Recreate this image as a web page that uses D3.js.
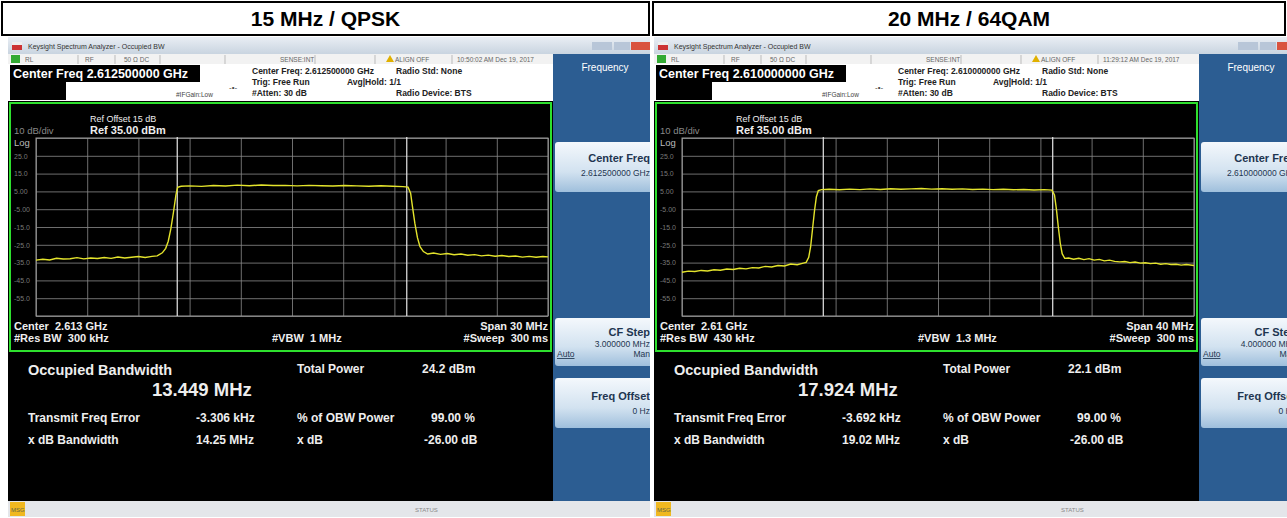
<!DOCTYPE html>
<html>
<head>
<meta charset="utf-8">
<script src="https://cdn.jsdelivr.net/npm/d3@7"></script>
<style>
body { margin: 0; background: #fff; }
svg { display: block; font-family: "Liberation Sans", Arial, sans-serif; }
</style>
</head>
<body>
<svg width="1287" height="518"></svg>
<script>
// titoli dei due pannelli
const titles = ["15 MHz / QPSK", "20 MHz / 64QAM"];

// asse verticale (dBm) e etichette
const yTicks = [25, 15, 5, -5, -15, -25, -35, -45, -55];
const yTickLabels = ["25.0", "15.0", "5.00", "-5.00", "-15.0", "-25.0", "-35.0", "-45.0", "-55.0"];

// traccia 1: offset in MHz dal centro, livello in dBm
const tr1Freq = [-15,-14.6,-14.2,-13.8,-13.4,-13,-12.6,-12.2,-11.8,-11.4,-11,-10.6,-10.2,-9.8,-9.4,-9,-8.6,-8.2,-7.9,
  -7.6,-7.4,-7.25,-7.1,-6.95,-6.8,-6.7,-6.5,
  -6,-5.3,-4.6,-3.9,-3.2,-2.5,-1.8,-1.1,-0.4,0.3,1,1.7,2.4,3.1,3.8,4.5,5.2,5.9,6.5,6.8,
  6.95,7.05,7.2,7.35,7.5,7.7,7.95,
  8.3,8.7,9.1,9.5,9.9,10.3,10.7,11.1,11.5,11.9,12.3,12.7,13.1,13.5,13.9,14.3,14.7,15];
const tr1Level = [-33.6,-33.1,-33.5,-32.6,-33.0,-32.8,-32.2,-32.9,-32.4,-32.7,-32.1,-32.6,-31.9,-32.4,-32.0,-31.6,-32.1,-31.5,-31.2,
  -29.5,-27,-23,-16,-7,3,7.3,7.9,
  8.1,7.8,8.3,8.0,8.5,8.2,8.6,8.3,8.4,8.1,8.4,8.2,8.0,8.3,8.1,7.9,8.2,7.9,7.7,7.4,
  4,-3,-13,-21,-26,-28.8,-30.2,
  -29.6,-30.4,-29.9,-30.6,-30.2,-30.9,-30.5,-31.2,-30.8,-31.4,-31.0,-31.6,-31.3,-31.9,-31.5,-32.0,-31.6,-31.8];

// traccia 2
const tr2Freq = [-20,-19.5,-19,-18.5,-18,-17.5,-17,-16.5,-16,-15.5,-15,-14.5,-14,-13.5,-13,-12.5,-12,-11.5,-11,-10.6,-10.3,
  -10.1,-9.95,-9.8,-9.65,-9.5,-9.35,-9.1,
  -8.5,-7.7,-6.9,-6.1,-5.3,-4.5,-3.7,-2.9,-2.1,-1.3,-0.5,0.3,1.1,1.9,2.7,3.5,4.3,5.1,5.9,6.7,7.5,8.3,8.9,
  9.1,9.25,9.4,9.55,9.7,9.9,
  10.2,10.6,11,11.4,11.8,12.2,12.6,13,13.4,13.8,14.2,14.6,15,15.4,15.8,16.2,16.6,17,17.4,17.8,18.2,18.6,19,19.4,20];
const tr2Level = [-40.4,-39.8,-40.0,-39.4,-39.7,-39.0,-39.3,-38.6,-38.9,-38.2,-38.5,-37.8,-38.0,-37.1,-37.5,-36.6,-36.9,-35.8,-36.2,-35.4,-34.9,
  -32,-26,-16,-6,2,5.5,6.0,
  6.2,5.9,6.3,6.0,6.4,6.1,6.5,6.2,6.4,6.6,6.3,6.5,6.2,6.4,6.1,6.3,6.0,6.2,5.9,6.1,5.8,6.0,5.7,
  3,-5,-15,-24,-30,-32.6,
  -32.4,-33.1,-32.6,-33.3,-32.8,-33.6,-33.2,-34.0,-33.6,-34.3,-34.6,-34.4,-35.0,-34.7,-35.3,-35.1,-35.6,-35.3,-35.9,-35.6,-36.1,-35.9,-36.4,-36.1,-36.6];

const spans = [30, 40];
const obw = [13.449, 17.924];

const panels = [
  {ox: 0, clipX: 0, clipW: 650, title: titles[0], freq: tr1Freq, level: tr1Level, span: spans[0], obw: obw[0],
   cf: "2.612500000 GHz", time: "10:50:02 AM Dec 19, 2017", center: "Center  2.613 GHz", rbw: "#Res BW  300 kHz",
   vbw: "#VBW  1 MHz", spanTxt: "Span 30 MHz", step: "3.000000 MHz", obwTxt: "13.449 MHz", tfe: "-3.306 kHz",
   xdb: "14.25 MHz", tp: "24.2 dBm"},
  {ox: 646, clipX: 652, clipW: 635, title: titles[1], freq: tr2Freq, level: tr2Level, span: spans[1], obw: obw[1],
   cf: "2.610000000 GHz", time: "11:29:12 AM Dec 19, 2017", center: "Center  2.61 GHz", rbw: "#Res BW  430 kHz",
   vbw: "#VBW  1.3 MHz", spanTxt: "Span 40 MHz", step: "4.000000 MHz", obwTxt: "17.924 MHz", tfe: "-3.692 kHz",
   xdb: "19.02 MHz", tp: "22.1 dBm"}
];

const svg = d3.select("svg");
const defs = svg.append("defs");

const btnGrad = defs.append("linearGradient").attr("id", "btn").attr("x1", 0).attr("y1", 0).attr("x2", 0).attr("y2", 1);
btnGrad.append("stop").attr("offset", "0%").attr("stop-color", "#f4f8fc");
btnGrad.append("stop").attr("offset", "60%").attr("stop-color", "#d2e2f0");
btnGrad.append("stop").attr("offset", "100%").attr("stop-color", "#9fbfdc");
const winGrad = defs.append("linearGradient").attr("id", "win").attr("x1", 0).attr("y1", 0).attr("x2", 0).attr("y2", 1);
winGrad.append("stop").attr("offset", "0%").attr("stop-color", "#e9eef4");
winGrad.append("stop").attr("offset", "100%").attr("stop-color", "#c9d4e0");

// intestazioni
panels.forEach(function(p, i) {
  const x0 = i === 0 ? 2 : 653, w = i === 0 ? 647 : 632;
  svg.append("rect").attr("x", x0).attr("y", 2).attr("width", w).attr("height", 33)
    .attr("fill", "#fff").attr("stroke", "#000").attr("stroke-width", 2);
  svg.append("text").attr("x", x0 + w / 2).attr("y", 26).attr("text-anchor", "middle")
    .attr("font-size", 21).attr("font-weight", "bold").text(p.title);
});

panels.forEach(function(p, i) {
  defs.append("clipPath").attr("id", "clip" + i).append("rect")
    .attr("x", p.clipX).attr("y", 36).attr("width", p.clipW).attr("height", 482);
  const outer = svg.append("g").attr("clip-path", "url(#clip" + i + ")");
  const g = outer.append("g").attr("transform", `translate(${p.ox},0)`);

  // finestra
  g.append("rect").attr("x", 8).attr("y", 37).attr("width", 660).attr("height", 17).attr("fill", "url(#win)");
  g.append("rect").attr("x", 12).attr("y", 42).attr("width", 10).attr("height", 8).attr("fill", "#c33");
  g.append("rect").attr("x", 12).attr("y", 42).attr("width", 10).attr("height", 3).attr("fill", "#eee");
  g.append("text").attr("x", 28).attr("y", 49).attr("font-size", 7).attr("fill", "#333")
    .text("Keysight Spectrum Analyzer - Occupied BW");
  g.append("rect").attr("x", 592).attr("y", 42).attr("width", 20).attr("height", 8).attr("fill", "#b8c6d8");
  g.append("rect").attr("x", 614).attr("y", 42).attr("width", 16).attr("height", 8).attr("fill", "#b8c6d8");
  g.append("rect").attr("x", 631).attr("y", 42).attr("width", 22).attr("height", 8).attr("fill", "#d9533f");

  // barra di stato
  g.append("rect").attr("x", 8).attr("y", 54).attr("width", 545).attr("height", 10).attr("fill", "#f2f2f2");
  g.append("rect").attr("x", 11).attr("y", 55).attr("width", 9).attr("height", 8).attr("fill", "#3a3");
  [["RL", 25], ["RF", 85], ["50 Ω  DC", 124], ["SENSE:INT", 280], ["ALIGN OFF", 395], [p.time, 457]].forEach(function(t) {
    g.append("text").attr("x", t[1]).attr("y", 62).attr("font-size", 6.5).attr("fill", "#666").text(t[0]);
  });
  [78, 115, 160, 225, 315, 375, 452].forEach(function(x) {
    g.append("line").attr("x1", x).attr("x2", x).attr("y1", 55).attr("y2", 64).attr("stroke", "#bbb");
  });
  g.append("path").attr("d", "M386,62 L390,55 L394,62 Z").attr("fill", "#e0b000");

  // area info
  g.append("rect").attr("x", 8).attr("y", 64).attr("width", 545).attr("height", 37).attr("fill", "#fff");
  g.append("rect").attr("x", 10).attr("y", 65).attr("width", 190).attr("height", 17).attr("fill", "#000");
  g.append("rect").attr("x", 10).attr("y", 82).attr("width", 56).attr("height", 18).attr("fill", "#000");
  g.append("text").attr("x", 13).attr("y", 78).attr("font-size", 12.5).attr("font-weight", "bold").attr("fill", "#fff")
    .text("Center Freq " + p.cf);
  const info = [["Center Freq: " + p.cf, 252, 74], ["Trig: Free Run", 252, 85], ["Avg|Hold: 1/1", 347, 85],
    ["#Atten: 30 dB", 252, 96], ["Radio Std: None", 396, 74], ["Radio Device: BTS", 396, 96]];
  info.forEach(function(t) {
    g.append("text").attr("x", t[1]).attr("y", t[2]).attr("font-size", 8.5).attr("font-weight", "bold")
      .attr("fill", "#222").text(t[0]);
  });
  g.append("text").attr("x", 176).attr("y", 97).attr("font-size", 6.5).attr("fill", "#444").text("#IFGain:Low");
  g.append("text").attr("x", 229).attr("y", 90).attr("font-size", 8).attr("fill", "#444").text("-•-");

  // tasti funzione
  g.append("rect").attr("x", 553).attr("y", 54).attr("width", 110).attr("height", 447).attr("fill", "#2c5d92");
  g.append("text").attr("x", 605).attr("y", 71).attr("text-anchor", "middle").attr("font-size", 10)
    .attr("fill", "#fff").text("Frequency");
  [[142, 50], [318, 48], [378, 50]].forEach(function(b) {
    g.append("rect").attr("x", 555).attr("y", b[0]).attr("width", 108).attr("height", b[1]).attr("rx", 3)
      .attr("fill", "url(#btn)");
  });
  const kr = 650;
  g.append("text").attr("x", kr).attr("y", 162).attr("text-anchor", "end").attr("font-size", 11)
    .attr("font-weight", "bold").attr("fill", "#1e3550").text("Center Freq");
  g.append("text").attr("x", kr).attr("y", 176).attr("text-anchor", "end").attr("font-size", 8.5)
    .attr("fill", "#1e3550").text(p.cf);
  g.append("text").attr("x", kr).attr("y", 336).attr("text-anchor", "end").attr("font-size", 11)
    .attr("font-weight", "bold").attr("fill", "#1e3550").text("CF Step");
  g.append("text").attr("x", kr).attr("y", 347).attr("text-anchor", "end").attr("font-size", 8.5)
    .attr("fill", "#1e3550").text(p.step);
  g.append("text").attr("x", 557).attr("y", 357).attr("font-size", 8.5).attr("fill", "#1e3550")
    .attr("text-decoration", "underline").text("Auto");
  g.append("text").attr("x", kr).attr("y", 357).attr("text-anchor", "end").attr("font-size", 8.5)
    .attr("fill", "#1e3550").text("Man");
  g.append("text").attr("x", kr).attr("y", 400).attr("text-anchor", "end").attr("font-size", 11)
    .attr("font-weight", "bold").attr("fill", "#1e3550").text("Freq Offset");
  g.append("text").attr("x", kr).attr("y", 414).attr("text-anchor", "end").attr("font-size", 8.5)
    .attr("fill", "#1e3550").text("0 Hz");

  // area grafico
  g.append("rect").attr("x", 8).attr("y", 101).attr("width", 545).attr("height", 400).attr("fill", "#000");
  g.append("rect").attr("x", 10).attr("y", 103).attr("width", 541).attr("height", 248)
    .attr("fill", "none").attr("stroke", "#2ee02e").attr("stroke-width", 2);

  const x = d3.scaleLinear().domain([-p.span / 2, p.span / 2]).range([36, 548]);
  const y = d3.scaleLinear().domain([-65, 35]).range([316, 138]);

  // griglia
  const xGrid = d3.axisBottom(x).tickValues(d3.range(0, 11).map(function(k) { return -p.span / 2 + k * p.span / 10; }))
    .tickSize(-(316 - 138)).tickFormat("");
  g.append("g").attr("transform", "translate(0,316)").call(xGrid)
    .call(function(s) { s.select(".domain").remove(); })
    .selectAll("line").attr("stroke", "#8a8a8a").attr("stroke-width", 0.8);
  const yGrid = d3.axisLeft(y).tickValues(d3.range(-65, 36, 10)).tickSize(-(548 - 36)).tickFormat("");
  g.append("g").attr("transform", "translate(36,0)").call(yGrid)
    .call(function(s) { s.select(".domain").remove(); })
    .selectAll("line").attr("stroke", "#8a8a8a").attr("stroke-width", 0.8);
  g.append("rect").attr("x", 36).attr("y", 138).attr("width", 512).attr("height", 178)
    .attr("fill", "none").attr("stroke", "#9a9a9a");

  const yLab = d3.axisLeft(y).tickValues(yTicks).tickSize(0)
    .tickFormat(function(d, k) { return yTickLabels[k]; });
  g.append("g").attr("transform", "translate(34,0)").call(yLab)
    .call(function(s) { s.select(".domain").remove(); })
    .selectAll("text").attr("x", -20).attr("text-anchor", "start").attr("font-size", 7).attr("fill", "#777")
    .attr("font-family", "Liberation Sans");

  // marcatori OBW
  [-p.obw / 2, p.obw / 2].forEach(function(f) {
    g.append("line").attr("x1", x(f)).attr("x2", x(f)).attr("y1", 137).attr("y2", 316)
      .attr("stroke", "#e8e8e8").attr("stroke-width", 1.2);
  });

  // traccia
  const line = d3.line().x(function(d) { return x(d[0]); }).y(function(d) { return y(d[1]); });
  g.append("path").datum(d3.zip(p.freq, p.level)).attr("d", line)
    .attr("fill", "none").attr("stroke", "#e4e42c").attr("stroke-width", 1.4);

  // testi del grafico
  g.append("text").attr("x", 14).attr("y", 134).attr("font-size", 9.5).attr("fill", "#888").text("10 dB/div");
  g.append("text").attr("x", 14).attr("y", 146).attr("font-size", 9.5).attr("fill", "#bbb").text("Log");
  g.append("text").attr("x", 90).attr("y", 122).attr("font-size", 9).attr("fill", "#eee").text("Ref Offset 15 dB");
  g.append("text").attr("x", 90).attr("y", 134).attr("font-size", 11).attr("font-weight", "bold").attr("fill", "#eee")
    .text("Ref 35.00 dBm");
  const bt = [[p.center, 14, 330, "start"], [p.rbw, 14, 342, "start"], [p.vbw, 272, 342, "start"],
    [p.spanTxt, 548, 330, "end"], ["#Sweep  300 ms", 548, 342, "end"]];
  bt.forEach(function(t) {
    g.append("text").attr("x", t[1]).attr("y", t[2]).attr("text-anchor", t[3]).attr("font-size", 11)
      .attr("font-weight", "bold").attr("fill", "#eee").attr("xml:space", "preserve").text(t[0]);
  });

  // risultati
  const res = [["Occupied Bandwidth", 28, 375, 14.5], [p.obwTxt, 152, 396, 18.5], ["Total Power", 297, 373, 12],
    [p.tp, 422, 373, 12], ["Transmit Freq Error", 28, 422, 12], [p.tfe, 196, 422, 12], ["% of OBW Power", 297, 422, 12],
    ["99.00 %", 431, 422, 12], ["x dB Bandwidth", 28, 444, 12], [p.xdb, 196, 444, 12], ["x dB", 297, 444, 12],
    ["-26.00 dB", 424, 444, 12]];
  res.forEach(function(t) {
    g.append("text").attr("x", t[1]).attr("y", t[2]).attr("font-size", t[3]).attr("font-weight", "bold")
      .attr("fill", "#eee").text(t[0]);
  });

  // barra inferiore
  g.append("rect").attr("x", 8).attr("y", 501).attr("width", 660).attr("height", 16).attr("fill", "#e4e6ea");
  g.append("rect").attr("x", 10).attr("y", 502).attr("width", 15).attr("height", 14).attr("fill", "#f0b820");
  g.append("text").attr("x", 11).attr("y", 512).attr("font-size", 6).attr("fill", "#664").text("MSG");
  g.append("text").attr("x", 415).attr("y", 512).attr("font-size", 6).attr("fill", "#888").text("STATUS");
});
</script>
</body>
</html>
